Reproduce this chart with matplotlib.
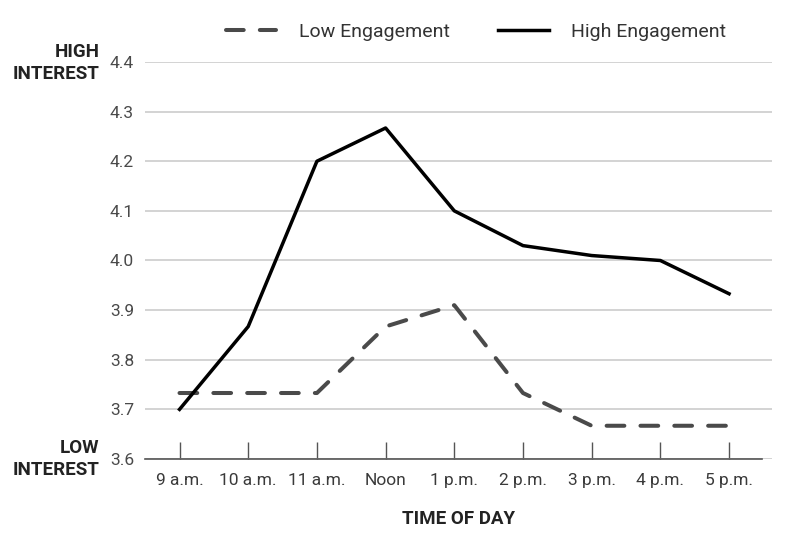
import numpy as np
import matplotlib.pyplot as plt

# Datos
horas = ['9 a.m.', '10 a.m.', '11 a.m.', 'Noon', '1 p.m.', '2 p.m.', '3 p.m.', '4 p.m.', '5 p.m.']
low_engagement = [3.733, 3.733, 3.733, 3.867, 3.91, 3.733, 3.667, 3.667, 3.667]
high_engagement = [3.70, 3.867, 4.20, 4.267, 4.10, 4.03, 4.01, 4.00, 3.933]
y_ticks = [3.6, 3.7, 3.8, 3.9, 4.0, 4.1, 4.2, 4.3, 4.4]

plt.rcParams['font.family'] = ['Roboto', 'DejaVu Sans']

fig = plt.figure(figsize=(7.89, 5.39), dpi=100)
ax = fig.add_axes([0.184, 0.1484, 0.794, 0.7366])

x = np.arange(len(horas))
ax.plot(x, low_engagement, color='#4a4a4a', lw=2.9, linestyle=(0, (4.4, 4.0)),
        label='Low Engagement', dash_capstyle='round')
ax.plot(x, high_engagement, color='black', lw=2.5, label='High Engagement')

ax.set_ylim(3.6, 4.4)
ax.set_xlim(-0.5, 8.62)
ax.set_yticks(y_ticks)
ax.set_yticklabels([f'{v:.1f}' for v in y_ticks])
ax.set_xticks(x)
ax.set_xticklabels(horas)

ax.grid(axis='y', color='#cccccc', lw=1.2)
ax.set_axisbelow(True)
for s in ['top', 'right', 'left']:
    ax.spines[s].set_visible(False)
ax.spines['bottom'].set_color('#555555')
ax.spines['bottom'].set_linewidth(1.2)
ax.spines['bottom'].set_bounds(-0.5, 8.48)

ax.tick_params(axis='x', direction='in', length=12, width=1, color='#555555',
               labelsize=12.5, labelcolor='#3a3a3a', pad=10)
ax.tick_params(axis='y', length=0, labelsize=12.5, labelcolor='#4a4a4a', pad=8)

ax.set_xlabel('TIME OF DAY', fontsize=13.5, fontweight='bold', color='#222222', labelpad=16)

ax.text(-0.073, 0.998, 'HIGH\nINTEREST', transform=ax.transAxes, ha='right', va='center',
        fontsize=13.5, fontweight='bold', color='#222222', linespacing=1.3,
        multialignment='right')
ax.text(-0.073, 0.0, 'LOW\nINTEREST', transform=ax.transAxes, ha='right', va='center',
        fontsize=13.5, fontweight='bold', color='#222222', linespacing=1.3,
        multialignment='right')

leg = ax.legend(loc='center', bbox_to_anchor=(0.528, 1.076), ncol=2, frameon=False,
                fontsize=14, handlelength=2.6, handletextpad=1.15, columnspacing=2.5)
for t in leg.get_texts():
    t.set_color('#333333')

fig.savefig('out.png', dpi=100)
